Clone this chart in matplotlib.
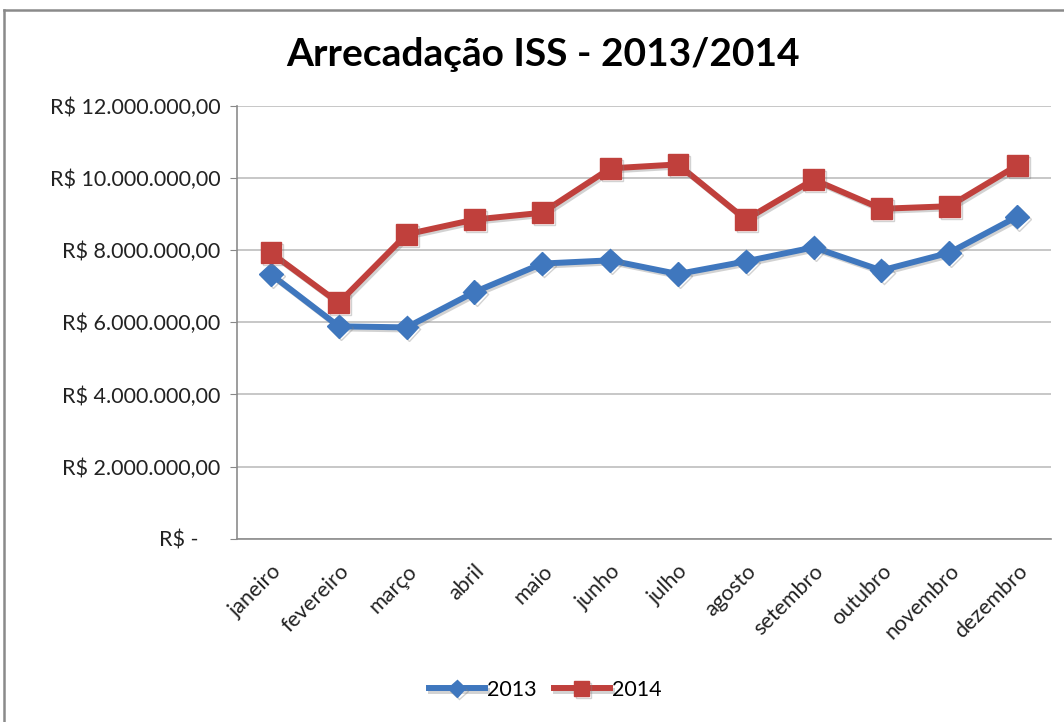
import matplotlib
matplotlib.use("Agg")
import matplotlib.pyplot as plt
import matplotlib.patheffects as pe
from matplotlib.lines import Line2D

months = ["janeiro", "fevereiro", "março", "abril", "maio", "junho",
          "julho", "agosto", "setembro", "outubro", "novembro", "dezembro"]
iss_2013 = [7.33e6, 5.89e6, 5.86e6, 6.84e6, 7.63e6, 7.72e6,
            7.34e6, 7.69e6, 8.08e6, 7.44e6, 7.93e6, 8.93e6]
iss_2014 = [7.93e6, 6.54e6, 8.44e6, 8.85e6, 9.04e6, 10.27e6,
            10.38e6, 8.85e6, 9.96e6, 9.15e6, 9.22e6, 10.35e6]
y_ticks = [0, 2e6, 4e6, 6e6, 8e6, 10e6, 12e6]
y_labels = ["R$ -    ", "R$ 2.000.000,00", "R$ 4.000.000,00", "R$ 6.000.000,00",
            "R$ 8.000.000,00", "R$ 10.000.000,00", "R$ 12.000.000,00"]
title = "Arrecadação ISS - 2013/2014"

plt.rcParams['font.family'] = ['Lato', 'DejaVu Sans']

W, H = 1064, 722
fig = plt.figure(figsize=(W / 100, H / 100), dpi=100)
ax = fig.add_axes([237 / W, 1 - 538.7 / H, (1051 - 237) / W, (538.7 - 106) / H])

x = list(range(len(months)))
shadow = [pe.SimpleLineShadow(offset=(1.5, -1.5), shadow_color='gray', alpha=0.35), pe.Normal()]
ax.plot(x, iss_2013, color='#3F77BE', lw=4.3, marker='D', markersize=12,
        label='2013', path_effects=shadow, zorder=3)
ax.plot(x, iss_2014, color='#C0403C', lw=4.3, marker='s', markersize=15,
        label='2014', path_effects=shadow, zorder=3)

ax.set_xlim(-0.5, len(months) - 0.5)
ax.set_ylim(0, 12e6)
ax.set_yticks(y_ticks)
ax.set_yticklabels(y_labels, fontsize=15.5, color='#222222')
ax.set_xticks(x)
ax.set_xticklabels(months, rotation=45, ha='right', rotation_mode='anchor',
                   fontsize=15.5, color='#222222')
ax.tick_params(axis='x', length=0, pad=16)
ax.tick_params(axis='y', length=5, color='#888888', pad=7)
ax.grid(axis='y', color='#BDBDBD', lw=1.2)
ax.set_axisbelow(True)
for s in ['top', 'right']:
    ax.spines[s].set_visible(False)
for s in ['left', 'bottom']:
    ax.spines[s].set_color('#8C8C8C')
    ax.spines[s].set_linewidth(1.2)

fig.text(543 / W, 1 - 55 / H, title, ha='center', va='center',
         fontsize=28, fontweight='bold', color='black')

fig.legend(loc='center', bbox_to_anchor=(545 / W, 1 - 690 / H), ncol=2, frameon=False,
           fontsize=15.5, handlelength=2.6, columnspacing=0.8, handletextpad=0.1,
           markerscale=0.75)

# outer chart frame
fig.add_artist(Line2D([4 / W, 1.0], [1 - 10 / H, 1 - 10 / H], transform=fig.transFigure,
                      color='#8A8A8A', lw=1.8))
fig.add_artist(Line2D([4 / W, 4 / W], [0.0, 1 - 10 / H], transform=fig.transFigure,
                      color='#8A8A8A', lw=1.8))

fig.savefig('out.png', dpi=100)
